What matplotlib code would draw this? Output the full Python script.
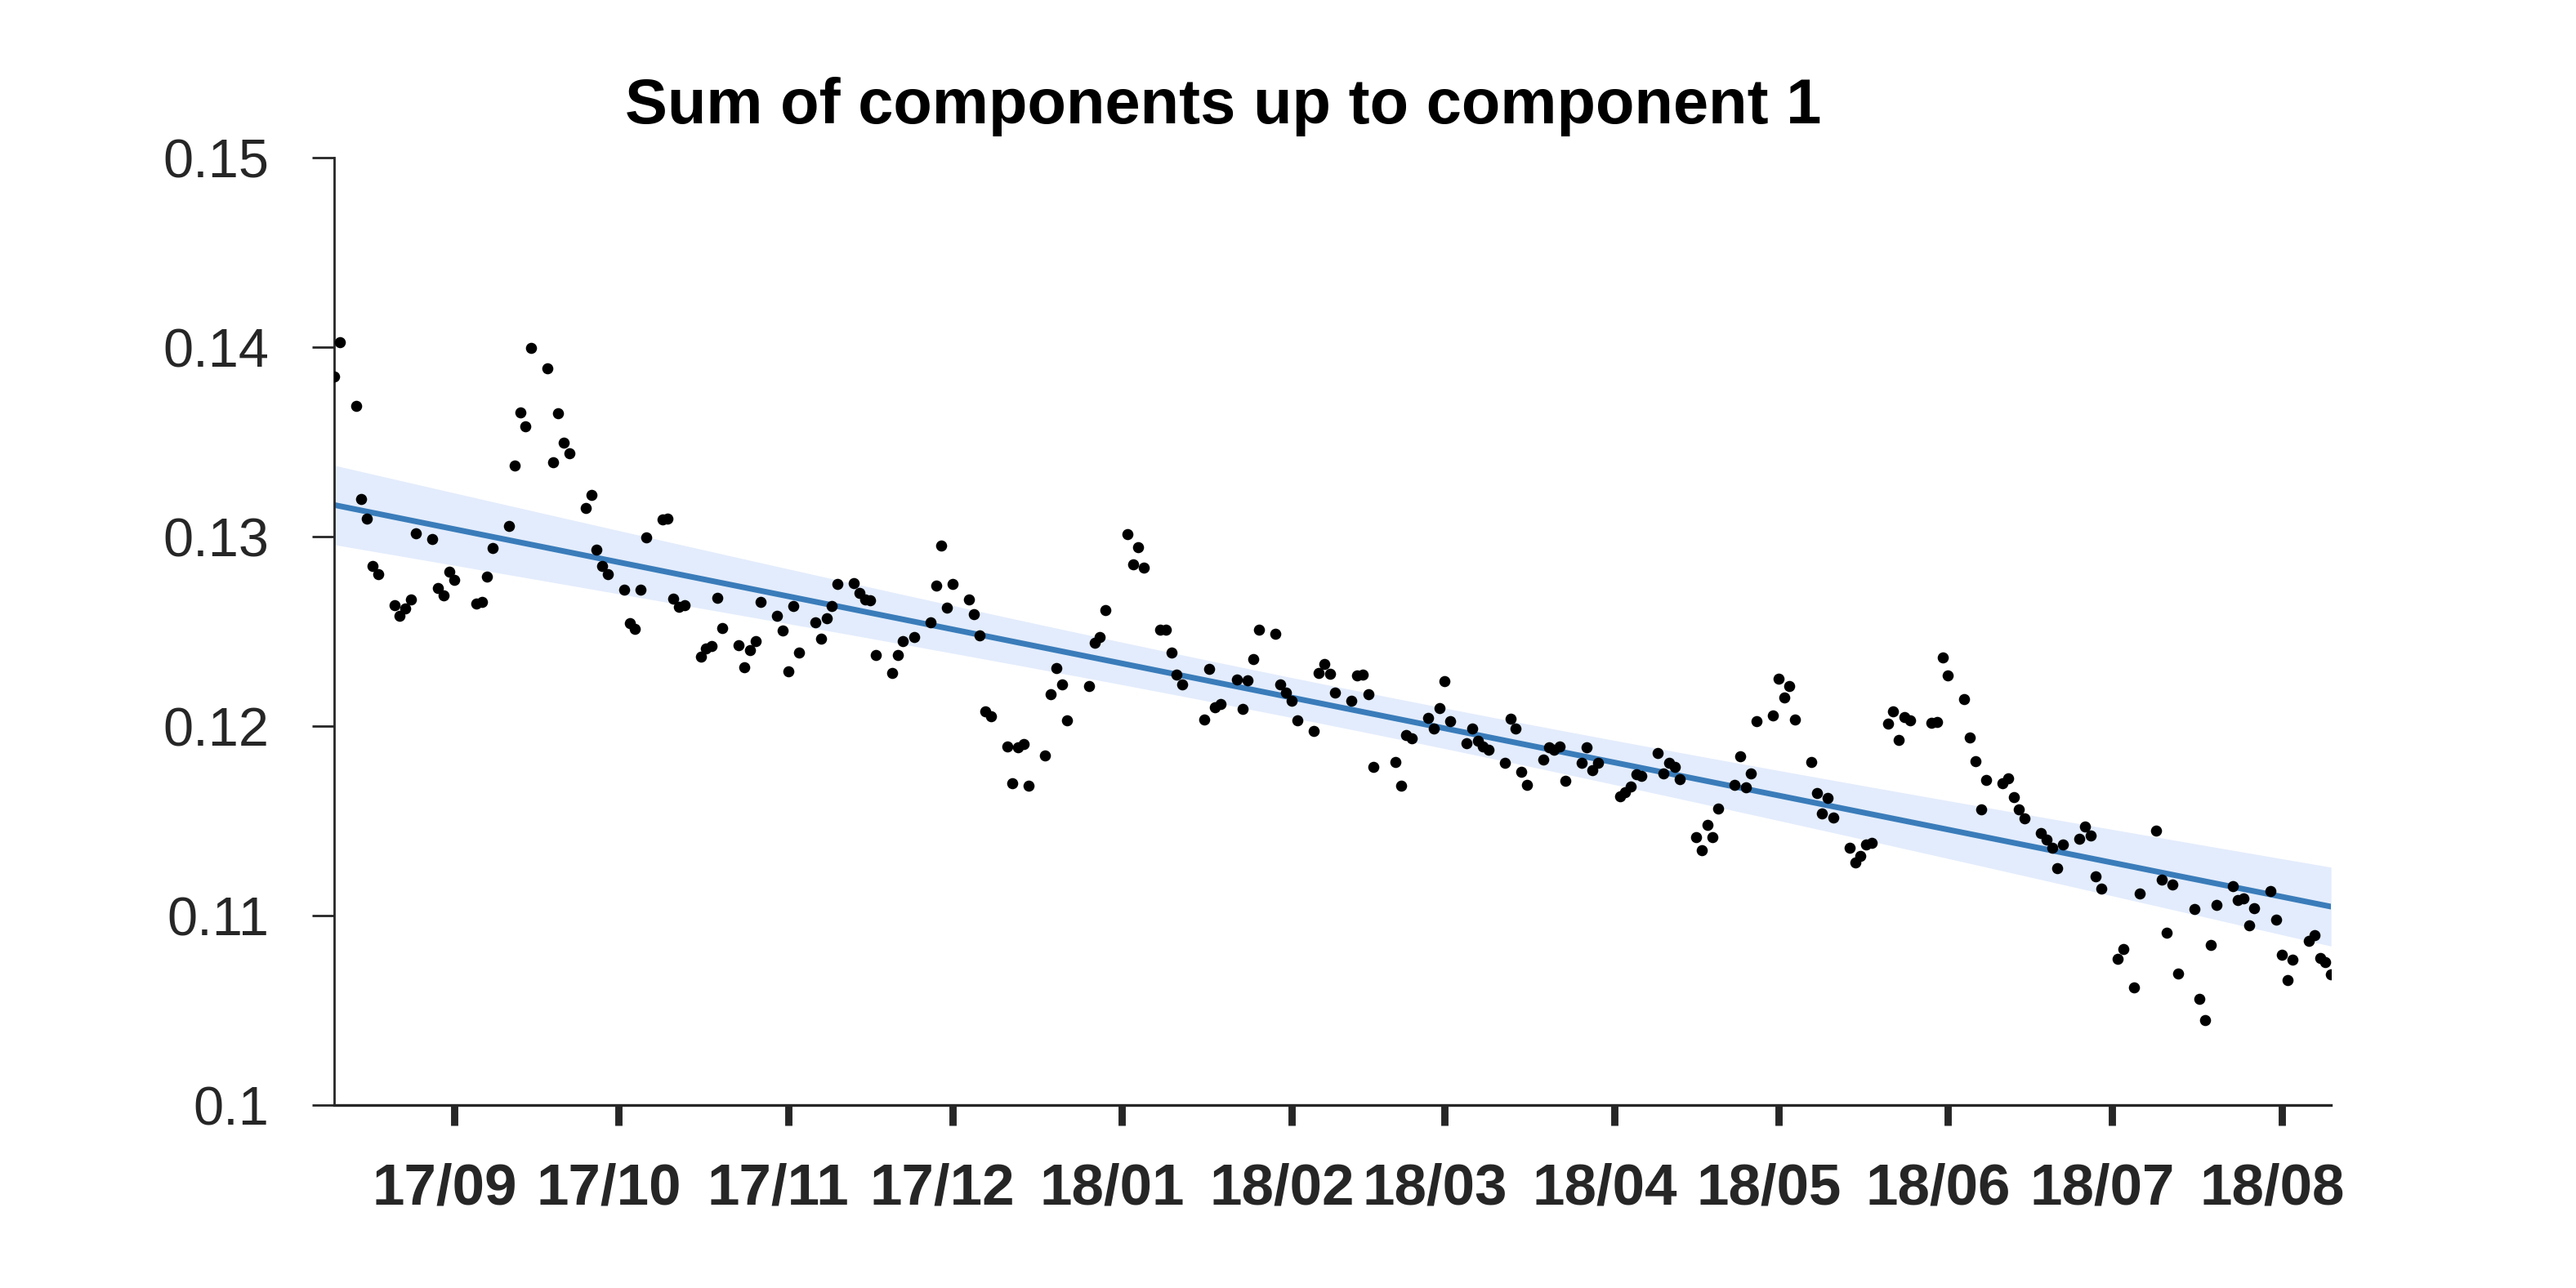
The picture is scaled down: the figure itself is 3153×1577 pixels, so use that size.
import numpy as np
import pandas as pd
import matplotlib
matplotlib.use('Agg')
from matplotlib import pyplot as plt
import matplotlib.dates as mdates
from matplotlib.transforms import ScaledTranslation

plt.rcParams['font.family'] = ['Liberation Sans', 'DejaVu Sans']

# trading days, grouped by month (day numbers) with the value read for each day
aug17_days = [10, 11, 14, 15, 16, 17, 18, 21, 22, 23, 24, 25, 28, 29, 30, 31]
aug17_vals = [0.13844, 0.14025, 0.13691, 0.13197, 0.13093, 0.12844, 0.12803, 0.12638,
              0.12583, 0.12623, 0.12668, 0.13018, 0.12988, 0.12727, 0.12691, 0.12813]
sep17_days = [1, 5, 6, 7, 8, 11, 12, 13, 14, 15, 18, 19, 20, 21, 22, 25, 26, 27, 28, 29]
sep17_vals = [0.12772, 0.12648, 0.12657, 0.12789, 0.12938, 0.13056, 0.13377, 0.13656,
              0.13582, 0.13996, 0.13890, 0.13392, 0.13651, 0.13496, 0.13441, 0.13153,
              0.13221, 0.12932, 0.12847, 0.12803]
oct17_days = [2, 3, 4, 5, 6, 9, 10, 11, 12, 13, 16, 17, 18, 19, 20, 23, 24, 25, 26, 27, 30, 31]
oct17_vals = [0.12718, 0.12543, 0.12513, 0.12718, 0.12997, 0.13092, 0.13095, 0.12672,
              0.12629, 0.12636, 0.12367, 0.12410, 0.12423, 0.12677, 0.12518, 0.12427,
              0.12312, 0.12402, 0.12449, 0.12654, 0.12583, 0.12504]
nov17_days = [1, 2, 3, 6, 7, 8, 9, 10, 13, 14, 15, 16, 17, 20, 21, 22, 24, 27, 28, 29, 30]
nov17_vals = [0.12288, 0.12634, 0.12389, 0.12547, 0.12463, 0.12569, 0.12634, 0.12749,
              0.12755, 0.12701, 0.12668, 0.12662, 0.12374, 0.12282, 0.12377, 0.12449,
              0.12471, 0.12547, 0.12740, 0.12953, 0.12625]
dec17_days = [1, 4, 5, 6, 7, 8, 11, 12, 13, 14, 15, 18, 19, 20, 21, 22, 26, 27, 28, 29]
dec17_vals = [0.12749, 0.12668, 0.12589, 0.12478, 0.12079, 0.12053, 0.11891, 0.11697,
              0.11887, 0.11906, 0.11685, 0.11847, 0.12168, 0.12308, 0.12218, 0.12031,
              0.12211, 0.12442, 0.12471, 0.12612]
jan18_days = [2, 3, 4, 5, 8, 9, 10, 11, 12, 16, 17, 18, 19, 22, 23, 24, 25, 26, 29, 30, 31]
jan18_vals = [0.13011, 0.12853, 0.12946, 0.12838, 0.12507, 0.12507, 0.12389, 0.12273,
              0.12218, 0.12035, 0.12302, 0.12100, 0.12118, 0.12247, 0.12089, 0.12240,
              0.12355, 0.12507, 0.12488, 0.12221, 0.12178]
feb18_days = [1, 2, 5, 6, 7, 8, 9, 12, 13, 14, 15, 16, 20, 21, 22, 23, 26, 27, 28]
feb18_vals = [0.12135, 0.12031, 0.11973, 0.12279, 0.12327, 0.12276, 0.12178, 0.12132,
              0.12269, 0.12273, 0.12168, 0.11786, 0.11812, 0.11685, 0.11952, 0.11937,
              0.12043, 0.11988, 0.12096]
mar18_days = [1, 2, 5, 6, 7, 8, 9, 12, 13, 14, 15, 16, 19, 20, 21, 22, 23, 26, 27, 28, 29]
mar18_vals = [0.12237, 0.12027, 0.11911, 0.11988, 0.11923, 0.11894, 0.11875, 0.11808,
              0.12038, 0.11988, 0.11757, 0.11688, 0.11825, 0.11887, 0.11875, 0.11891,
              0.11711, 0.11808, 0.11887, 0.11769, 0.11808]
apr18_days = [2, 3, 4, 5, 6, 9, 10, 11, 12, 13, 16, 17, 18, 19, 20, 23, 24, 25, 26, 27, 30]
apr18_vals = [0.11630, 0.11653, 0.11682, 0.11746, 0.11736, 0.11858, 0.11750, 0.11808,
              0.11783, 0.11721, 0.11416, 0.11344, 0.11480, 0.11416, 0.11567, 0.11692,
              0.11841, 0.11675, 0.11750, 0.12027, 0.12057]
may18_days = [1, 2, 3, 4, 7, 8, 9, 10, 11, 14, 15, 16, 17, 18, 21, 22, 23, 24, 25, 29, 30, 31]
may18_vals = [0.12252, 0.12151, 0.12211, 0.12035, 0.11812, 0.11646, 0.11541, 0.11620,
              0.11517, 0.11357, 0.11279, 0.11315, 0.11375, 0.11385, 0.12012, 0.12077,
              0.11927, 0.12048, 0.12031, 0.12017, 0.12021, 0.12363]
jun18_days = [1, 4, 5, 6, 7, 8, 11, 12, 13, 14, 15, 18, 19, 20, 21, 22, 25, 26, 27, 28, 29]
jun18_vals = [0.12266, 0.12142, 0.11938, 0.11815, 0.11561, 0.11717, 0.11700, 0.11726,
              0.11625, 0.11561, 0.11512, 0.11436, 0.11400, 0.11357, 0.11250, 0.11375,
              0.11404, 0.11472, 0.11422, 0.11207, 0.11141]
jul18_days = [2, 3, 5, 6, 9, 10, 11, 12, 13, 16, 17, 18, 19, 20, 23, 24, 25, 26, 27, 30, 31]
jul18_vals = [0.10770, 0.10825, 0.10619, 0.11116, 0.11448, 0.11188, 0.10910, 0.11164,
              0.10694, 0.11034, 0.10561, 0.10449, 0.10847, 0.11056, 0.11155, 0.11084,
              0.11090, 0.10947, 0.11037, 0.11130, 0.10979]
aug18_days = [1, 2, 3, 6, 7, 8, 9, 10]
aug18_vals = [0.10795, 0.10659, 0.10766, 0.10867, 0.10895, 0.10774, 0.10755, 0.10691]

months = [('2017-08', aug17_days, aug17_vals), ('2017-09', sep17_days, sep17_vals),
          ('2017-10', oct17_days, oct17_vals), ('2017-11', nov17_days, nov17_vals),
          ('2017-12', dec17_days, dec17_vals), ('2018-01', jan18_days, jan18_vals),
          ('2018-02', feb18_days, feb18_vals), ('2018-03', mar18_days, mar18_vals),
          ('2018-04', apr18_days, apr18_vals), ('2018-05', may18_days, may18_vals),
          ('2018-06', jun18_days, jun18_vals), ('2018-07', jul18_days, jul18_vals),
          ('2018-08', aug18_days, aug18_vals)]

dates = []
values = []
for ym, days, vals in months:
    dates += [pd.Timestamp('%s-%02d' % (ym, d)) for d in days]
    values += vals
dates = pd.DatetimeIndex(dates)
values = np.array(values)

#Linear trend with confidence band
xnum = mdates.date2num(dates)
coef = np.polyfit(xnum, values, 1)
fit = np.polyval(coef, xnum)
resid = values - fit
n = len(values)
s = np.sqrt(np.sum(resid**2) / (n - 2))
sxx = np.sum((xnum - xnum.mean())**2)
se = s * np.sqrt(1.0 / n + (xnum - xnum.mean())**2 / sxx)
z = 5.2
lower, upper = fit - z * se, fit + z * se

dark = '#262626'
fig = plt.figure(figsize=(15.765, 7.885), dpi=200)
ax = fig.add_axes([0.1297, 0.1420, 0.7752, 0.7356])

ax.fill_between(dates, lower, upper, color='#e3ecfc', linewidth=0, zorder=1)
ax.plot(dates, fit, color='#3a7cba', linewidth=2.5, solid_capstyle='round', zorder=2)
ax.scatter(dates, values, s=24, color='black', linewidths=0, zorder=3)

ax.set_xlim(dates[0], dates[-1])
ax.set_ylim(0.1, 0.15)
ax.set_yticks([0.1, 0.11, 0.12, 0.13, 0.14, 0.15])
ax.set_yticklabels(['0.1', '0.11', '0.12', '0.13', '0.14', '0.15'])

ax.xaxis.set_major_locator(mdates.MonthLocator(bymonthday=1))
ax.xaxis.set_major_formatter(mdates.DateFormatter('%y/%m'))

for side in ['top', 'right']:
    ax.spines[side].set_visible(False)
ax.spines['left'].set_linewidth(1.0)
ax.spines['bottom'].set_linewidth(1.2)
ax.spines['left'].set_color(dark)
ax.spines['bottom'].set_color(dark)

ax.tick_params(axis='y', direction='out', length=9.7, width=1.0, pad=19,
               labelsize=24, colors=dark)
ax.tick_params(axis='x', direction='out', length=9, width=3.2, pad=16.5,
               labelsize=25.5, colors=dark)
shift = ScaledTranslation(-12 / 200, 0, fig.dpi_scale_trans)
for lab in ax.get_xticklabels():
    lab.set_fontweight('bold')
    lab.set_transform(lab.get_transform() + shift)

fig.text(0.475, 0.917, 'Sum of components up to component 1', ha='center', va='center',
         fontsize=28, fontweight='bold', color='black')

fig.savefig('out.png', dpi=200)
